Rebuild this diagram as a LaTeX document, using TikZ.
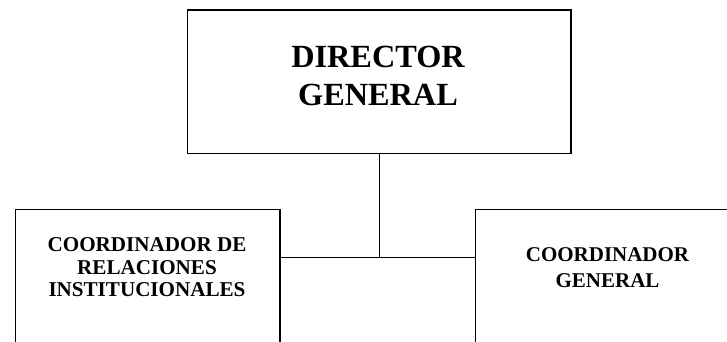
\documentclass[tikz,border=0pt]{standalone}
\usepackage{fontspec}
\setmainfont{Liberation Serif}
\usepackage{tikz}
\tikzset{
  caja/.style={draw, rectangle, line width=1.3pt, inner sep=0pt},
  titulo/.style={align=center, inner sep=0pt}
}

\begin{document}
\begin{tikzpicture}[x=1pt,y=-1pt]
\useasboundingbox (0,0) rectangle (727,341);
\clip (0,0) rectangle (727,341);
\node[caja, minimum width=383.7pt, minimum height=143.3pt] (dir) at (379.2,81.7) {};
\node[titulo, font=\bfseries\fontsize{32.3}{38}\selectfont] (dirtxt) at (378,75.5) {DIRECTOR\\GENERAL};
\node[caja, minimum width=264.3pt, minimum height=160pt] (rel) at (147.9,289.3) {};
\node[titulo, font=\bfseries\fontsize{21.1}{22.3}\selectfont] (reltxt) at (147,267.4) {COORDINADOR DE\\RELACIONES\\INSTITUCIONALES};
\node[caja, minimum width=264.3pt, minimum height=160pt] (coord) at (607.9,289.3) {};
\node[titulo, font=\bfseries\fontsize{21}{25.7}\selectfont] (coordtxt) at (607.5,267.3) {COORDINADOR\\GENERAL};
\coordinate (union) at (380.5,257.3);
\draw[line width=1.3pt] (dir.south) -- (dir.south |- union);
\draw[line width=1.3pt] (rel.east |- union) -- (coord.west |- union);

\end{tikzpicture}
\end{document}
